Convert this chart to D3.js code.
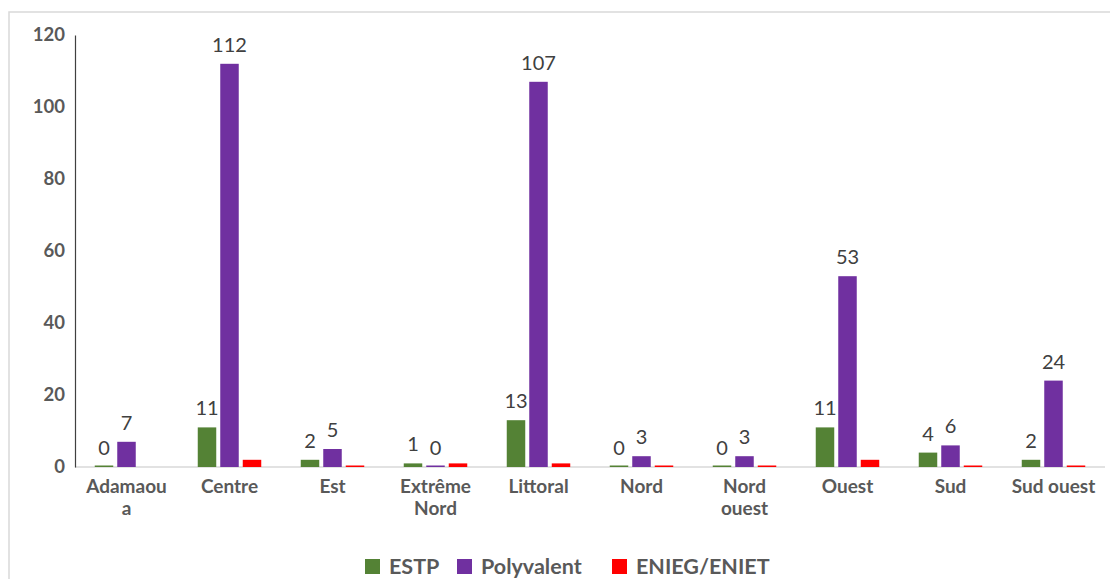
<!DOCTYPE html>
<html>
<head>
<meta charset="utf-8">
<script src="https://cdn.jsdelivr.net/npm/d3@7"></script>
<style>
  html, body { margin: 0; padding: 0; background: #fff; }
  svg { display: block; font-family: Lato, "Open Sans", sans-serif; }
</style>
</head>
<body>
<svg id="chart" width="1110" height="579"></svg>
<script>
// Regions and their label lines
const categories = ["Adamaoua", "Centre", "Est", "Extrême Nord", "Littoral", "Nord", "Nord ouest", "Ouest", "Sud", "Sud ouest"];
const categoryLines = [["Adamaou", "a"], ["Centre"], ["Est"], ["Extrême", "Nord"], ["Littoral"], ["Nord"], ["Nord", "ouest"], ["Ouest"], ["Sud"], ["Sud ouest"]];

// Series values per region
const seriesNames = ["ESTP", "Polyvalent", "ENIEG/ENIET"];
const estp = [0, 11, 2, 1, 13, 0, 0, 11, 4, 2];
const polyvalent = [7, 112, 5, 0, 107, 3, 3, 53, 6, 24];
const enieg = [null, 2, 0, 1, 1, 0, 0, 2, 0, 0];
const seriesColors = ["#548235", "#7030a0", "#ff0000"];
const labelledSeries = [true, true, false];

const yTicks = [0, 20, 40, 60, 80, 100, 120];

const seriesValues = [estp, polyvalent, enieg];

const svg = d3.select("#chart");

// Outer chart frame
svg.append("rect")
  .attr("x", 9).attr("y", 12)
  .attr("width", 1200).attr("height", 700)
  .attr("fill", "none")
  .attr("stroke", "#d9d9d9")
  .attr("stroke-width", 1.5);

const plot = { left: 75, right: 1105, top: 35, bottom: 467 };

const x0 = d3.scaleBand().domain(categories).range([plot.left, plot.right]).padding(0);
const x1 = d3.scaleBand().domain(seriesNames).range([-31.75, 31.75]).paddingInner(0.178);
const y = d3.scaleLinear().domain([0, 120]).range([plot.bottom, plot.top]);

// Baseline
svg.append("line")
  .attr("x1", plot.left).attr("x2", plot.right)
  .attr("y1", y(0)).attr("y2", y(0))
  .attr("stroke", "#d9d9d9").attr("stroke-width", 1.5);

// Y axis
const yAxis = d3.axisLeft(y).tickValues(yTicks).tickSize(0).tickPadding(10);
const gy = svg.append("g").attr("transform", `translate(${plot.left},0)`).call(yAxis);
gy.select(".domain").attr("stroke", "#404040").attr("stroke-width", 1.2);
gy.selectAll("text")
  .attr("font-family", "Lato, sans-serif")
  .attr("font-size", 18.5)
  .attr("font-weight", "bold")
  .attr("fill", "#595959");

// Bars
const groups = svg.append("g").selectAll("g")
  .data(categories)
  .join("g")
  .attr("transform", d => `translate(${x0(d) + x0.bandwidth() / 2},0)`);

seriesNames.forEach((name, si) => {
  groups.each(function(cat, ci) {
    const v = seriesValues[si][ci];
    if (v === null) return;
    const g = d3.select(this);
    const h = Math.max(y(0) - y(v), 1.5);
    g.append("rect")
      .attr("x", x1(name))
      .attr("y", y(0) - h)
      .attr("width", x1.bandwidth())
      .attr("height", h)
      .attr("fill", seriesColors[si]);
    if (labelledSeries[si]) {
      g.append("text")
        .attr("x", x1(name) + x1.bandwidth() / 2)
        .attr("y", y(v) - 12)
        .attr("text-anchor", "middle")
        .attr("font-size", 20)
        .attr("fill", "#404040")
        .text(v);
    }
  });
});

// Category labels
groups.each(function(cat, ci) {
  const t = d3.select(this).append("text")
    .attr("text-anchor", "middle")
    .attr("font-size", 19)
    .attr("font-weight", "bold")
    .attr("fill", "#595959");
  categoryLines[ci].forEach((line, li) => {
    t.append("tspan").attr("x", 0).attr("y", 493 + li * 21.5).text(line);
  });
});

// Legend
const legendItems = [
  { name: "ESTP", x: 365 },
  { name: "Polyvalent", x: 457 },
  { name: "ENIEG/ENIET", x: 612 }
];
const legend = svg.append("g");
legendItems.forEach((item, i) => {
  legend.append("rect")
    .attr("x", item.x).attr("y", 559)
    .attr("width", 15).attr("height", 15)
    .attr("fill", seriesColors[i]);
  legend.append("text")
    .attr("x", item.x + 24).attr("y", 573.5)
    .attr("font-size", 21.5)
    .attr("font-weight", "bold")
    .attr("fill", "#595959")
    .text(item.name);
});
</script>
</body>
</html>
